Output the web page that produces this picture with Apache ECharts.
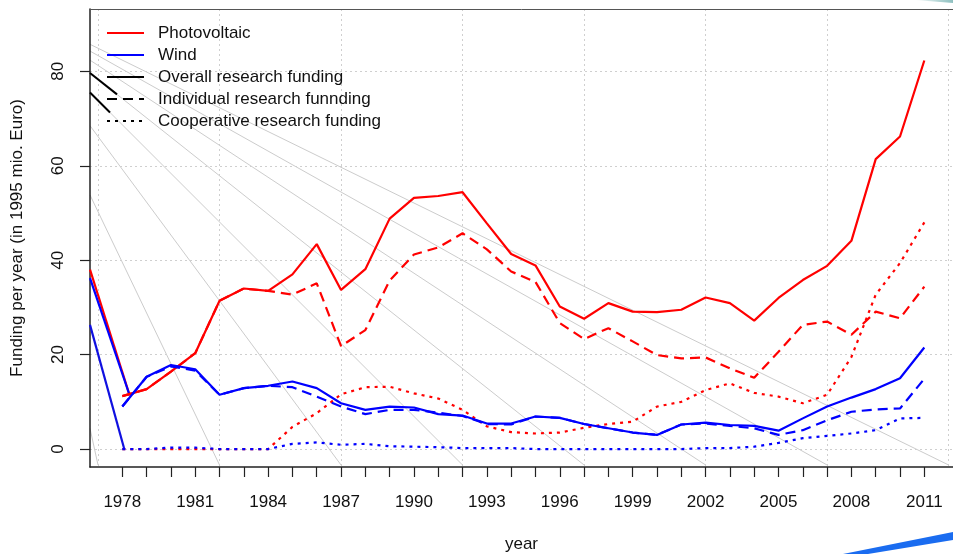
<!DOCTYPE html>
<html lang="en">
<head>
    <meta charset="UTF-8">
    <title>Research funding</title>
    <script src="https://cdn.jsdelivr.net/npm/echarts@6/dist/echarts.min.js"></script>
    <style>
        html, body { margin: 0; padding: 0; background: #fff; overflow: hidden; }
        #main { width: 953px; height: 554px; }
    </style>
</head>
<body>
<div id="main"></div>
<script>
    // years on the x axis
    var years = [1978, 1979, 1980, 1981, 1982, 1983, 1984, 1985, 1986, 1987, 1988, 1989,
                 1990, 1991, 1992, 1993, 1994, 1995, 1996, 1997, 1998, 1999, 2000, 2001,
                 2002, 2003, 2004, 2005, 2006, 2007, 2008, 2009, 2010, 2011];
    var labelYears = [1978, 1981, 1984, 1987, 1990, 1993, 1996, 1999, 2002, 2005, 2008, 2011];
    var gridYears = [1977, 1982, 1987, 1992, 1997, 2002, 2007, 2012];
    var yTicks = [0, 20, 40, 60, 80];

    // photovoltaic (mio. Euro)
    var pvOverall = [11.2, 12.7, 16.4, 20.3, 31.4, 34.0, 33.5, 37.0, 43.4, 33.7, 38.1, 48.8,
                     53.2, 53.6, 54.4, 47.8, 41.3, 38.9, 30.2, 27.6, 30.9, 29.1, 29.0, 29.5,
                     32.1, 30.9, 27.2, 32.0, 35.8, 38.8, 44.1, 61.4, 66.2, 82.3];
    var pvIndividual = [11.2, 12.7, 16.4, 20.3, 31.4, 34.0, 33.5, 32.7, 35.1, 21.8, 25.2, 35.7,
                        41.2, 42.7, 45.7, 42.3, 37.6, 35.4, 26.7, 23.3, 25.6, 22.8, 19.9, 19.2,
                        19.4, 17.1, 15.1, 20.6, 26.3, 27.0, 24.2, 29.1, 27.7, 34.4];
    var pvCooperative = [0, 0, 0, 0, 0, 0, 0, 4.7, 7.6, 11.6, 13.1, 13.2,
                         11.8, 10.7, 8.3, 4.8, 3.6, 3.3, 3.5, 4.5, 5.3, 5.8, 9.0, 10.0,
                         12.5, 13.9, 11.9, 11.1, 9.7, 11.5, 19.5, 32.7, 39.4, 48.0];

    // wind (mio. Euro)
    var windOverall = [9.0, 15.3, 17.8, 16.9, 11.5, 12.9, 13.4, 14.3, 12.9, 9.7, 8.3, 9.0,
                       8.8, 7.4, 7.1, 5.4, 5.4, 6.9, 6.6, 5.3, 4.4, 3.5, 3.0, 5.2,
                       5.6, 5.1, 4.9, 3.9, 6.5, 9.0, 10.9, 12.7, 15.0, 21.5];
    var windIndividual = [9.0, 15.3, 17.5, 16.6, 11.5, 12.9, 13.4, 13.1, 11.1, 9.0, 7.4, 8.3,
                          8.3, 7.7, 7.0, 5.3, 5.2, 6.9, 6.6, 5.3, 4.4, 3.5, 3.0, 5.2,
                          5.4, 4.9, 4.4, 3.0, 4.0, 6.1, 7.9, 8.4, 8.6, 14.9];
    var windCooperative = [0, 0, 0.3, 0.3, 0, 0, 0, 1.1, 1.4, 0.9, 1.1, 0.6,
                           0.5, 0.4, 0.2, 0.2, 0.2, 0, 0, 0, 0, 0, 0, 0,
                           0.2, 0.2, 0.5, 1.3, 2.3, 2.8, 3.3, 4.0, 6.5, 6.6];

    // the lines coming in from the left edge (read at the plot edge and where they end)
    var leadX = [1976.67, 1978.3];
    var pvLead = [38.0, 11.4];
    var windLead = [36.2, 11.4];
    var coopLeadX = [1976.67, 1978.08];
    var windCoopLead = [26.3, 0];

    var legendNames = ['Photovoltaic', 'Wind', 'Overall research funding',
                       'Individual research funnding', 'Cooperative research funding'];

    var RED = '#ff0000', BLUE = '#0000ff';
    var FONT = "'Liberation Sans', Arial, Helvetica, sans-serif";
    var X_MIN = 1976.67, X_MAX = 2012.18, Y_MIN = -3.8, Y_MAX = 93.2;

    function pairs(xs, ys) {
        return xs.map(function (x, i) { return [x, ys[i]]; });
    }

    function line(name, xs, ys, color, type) {
        return {
            type: 'line',
            name: name,
            data: pairs(xs, ys),
            showSymbol: false,
            symbol: 'none',
            silent: true,
            z: 3,
            lineStyle: { color: color, width: 2.2, type: type, cap: 'butt' }
        };
    }

    // only here so the legend gets its keys
    function key(name, color, type) {
        return {
            type: 'line', name: name, data: [], symbol: 'none',
            itemStyle: { color: color },
            lineStyle: { color: color, width: 2.2, type: type }
        };
    }

    var myChart = echarts.init(document.getElementById('main'));

    var option = {
        animation: false,
        backgroundColor: '#fff',
        textStyle: { fontFamily: FONT },
        grid: {
            left: 90, top: 9, right: 0, bottom: 87,
            outerBoundsMode: 'none',
            show: false
        },
        legend: {
            data: legendNames,
            orient: 'vertical',
            left: 106, top: 22,
            padding: 0,
            itemGap: 0,
            itemWidth: 37,
            itemHeight: 2,
            selectedMode: false,
            itemStyle: { opacity: 0 },
            textStyle: { fontSize: 17, color: '#111', lineHeight: 22, padding: [0, 0, 0, 9], fontFamily: FONT }
        },
        xAxis: [{
            type: 'value',
            min: X_MIN, max: X_MAX,
            name: 'year',
            nameLocation: 'middle',
            nameGap: 69,
            nameTextStyle: { fontSize: 17, color: '#111', fontFamily: FONT },
            axisLine: { show: true, onZero: false, lineStyle: { color: '#222', width: 1.5 } },
            axisTick: { show: true, customValues: years, length: 10, lineStyle: { color: '#222', width: 1.2 } },
            axisLabel: { show: true, customValues: labelYears, fontSize: 17, color: '#111', margin: 27,
                         fontFamily: FONT, formatter: function (v) { return String(v); } },
            splitLine: { show: false }
        }, {
            type: 'value',
            min: X_MIN, max: X_MAX,
            position: 'top',
            axisLine: { show: true, onZero: false, lineStyle: { color: '#555', width: 1 } },
            axisTick: { show: false, customValues: gridYears },
            axisLabel: { show: false, customValues: gridYears },
            splitLine: { show: true, customValues: gridYears, lineStyle: { color: '#cfcfcf', type: [2, 3], width: 1 } }
        }],
        yAxis: {
            type: 'value',
            min: Y_MIN, max: Y_MAX,
            name: 'Funding per year (in 1995 mio. Euro)',
            nameLocation: 'middle',
            nameGap: 64,
            nameTextStyle: { fontSize: 17, color: '#111', fontFamily: FONT },
            axisLine: { show: true, onZero: false, lineStyle: { color: '#222', width: 1.5 } },
            axisTick: { show: true, customValues: yTicks, length: 10, lineStyle: { color: '#222', width: 1.2 } },
            axisLabel: { show: true, customValues: yTicks, rotate: 90, fontSize: 17, color: '#111', margin: 23,
                         fontFamily: FONT },
            splitLine: { show: true, lineStyle: { color: '#cfcfcf', type: [2, 3], width: 1 } }
        },
        series: [
            key(legendNames[0], RED, 'solid'),
            key(legendNames[1], BLUE, 'solid'),
            key(legendNames[2], '#000', 'solid'),
            key(legendNames[3], '#000', [10, 6]),
            key(legendNames[4], '#000', [3, 5]),
            line('pv lead', leadX, pvLead, RED, 'solid'),
            line('wind lead', leadX, windLead, BLUE, 'solid'),
            line('wind coop lead', coopLeadX, windCoopLead, '#1010e0', 'solid'),
            line('PV cooperative', years, pvCooperative, RED, [3, 5]),
            line('PV individual', years, pvIndividual, RED, [10, 6]),
            line('PV overall', years, pvOverall, RED, 'solid'),
            line('Wind cooperative', years, windCooperative, BLUE, [3, 5]),
            line('Wind individual', years, windIndividual, BLUE, [10, 6]),
            line('Wind overall', years, windOverall, BLUE, 'solid')
        ]
    };

    myChart.setOption(option);

    // background decoration of the slide: grey rays from the top left corner
    function decorate() {
        var vp = [-4.5, -2];
        var left = myChart.convertToPixel({ xAxisIndex: 0 }, X_MIN);
        var bottom = myChart.convertToPixel({ yAxisIndex: 0 }, Y_MIN) - 2;
        var els = [];
        function rayY(bx, x) { return vp[1] + (x - vp[0]) * (bottom - vp[1]) / (bx - vp[0]); }
        gridYears.forEach(function (yr) {
            var bx = myChart.convertToPixel({ xAxisIndex: 0 }, yr);
            els.push({
                type: 'line', silent: true, z: -1,
                shape: { x1: left, y1: rayY(bx, left), x2: bx, y2: bottom },
                style: { stroke: '#cccccc', lineWidth: 1 }
            });
        });
        // two black bits near the legend keys
        [[1997, 27], [1992, 20]].forEach(function (d) {
            var bx = myChart.convertToPixel({ xAxisIndex: 0 }, d[0]);
            els.push({
                type: 'line', silent: true, z: 5,
                shape: { x1: left, y1: rayY(bx, left), x2: left + d[1], y2: rayY(bx, left + d[1]) },
                style: { stroke: '#000', lineWidth: 2 }
            });
        });
        // blue swoosh bottom right, teal one top right
        els.push({
            type: 'polygon', silent: true,
            shape: { points: [[843, 554], [953, 532], [953, 540], [868, 554]] },
            style: { fill: '#1a6cf0' }
        });
        els.push({
            type: 'polygon', silent: true,
            shape: { points: [[915, 0], [953, 0], [953, 3]] },
            style: { fill: new echarts.graphic.LinearGradient(0, 0, 1, 0, [
                { offset: 0, color: 'rgba(120,180,180,0)' }, { offset: 1, color: '#8fc0c0' }]) }
        });
        myChart.setOption({ graphic: { elements: els } });
    }
    decorate();
</script>
</body>
</html>
